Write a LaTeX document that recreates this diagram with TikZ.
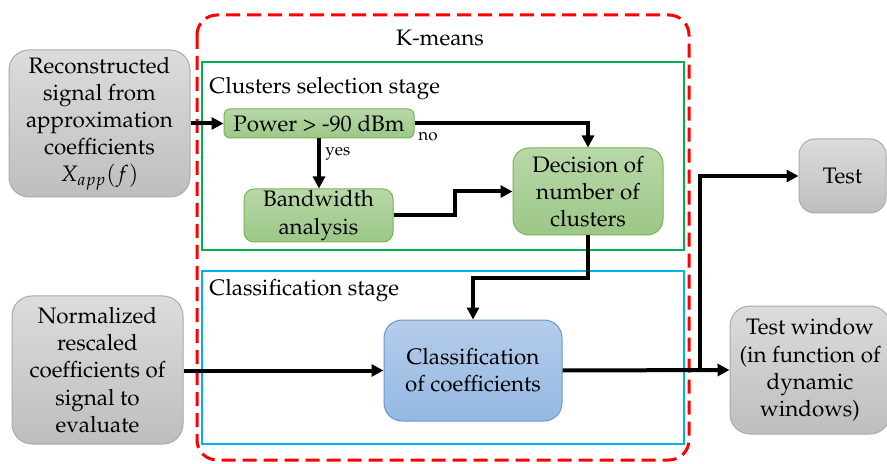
\documentclass[tikz,border=0pt]{standalone}
\usepackage[T1]{fontenc}
\usepackage{mathpazo}
\usetikzlibrary{arrows.meta}

\definecolor{grayTop}{RGB}{220,220,220}
\definecolor{grayBot}{RGB}{190,190,190}
\definecolor{grayLine}{RGB}{170,170,170}
\definecolor{greenTop}{RGB}{184,216,168}
\definecolor{greenBot}{RGB}{156,199,134}
\definecolor{greenLine}{RGB}{122,178,88}
\definecolor{blueTop}{RGB}{182,204,234}
\definecolor{blueBot}{RGB}{148,184,228}
\definecolor{blueLine}{RGB}{100,155,210}
\definecolor{stageGreen}{RGB}{0,176,80}
\definecolor{stageBlue}{RGB}{0,176,240}
\definecolor{kRed}{RGB}{255,0,0}

\tikzset{
  txt/.style={font=\fontsize{11.2}{13.6}\selectfont, align=center, inner sep=0pt},
  small/.style={font=\fontsize{8.5}{10}\selectfont, inner sep=0pt},
  graybox/.style={txt, draw=grayLine, line width=0.5pt, top color=grayTop, bottom color=grayBot, rounded corners=10pt},
  greenbox/.style={txt, draw=greenLine, line width=0.5pt, top color=greenTop, bottom color=greenBot},
  bluebox/.style={txt, draw=blueLine, line width=0.5pt, top color=blueTop, bottom color=blueBot, rounded corners=9pt},
  arr/.style={line width=2pt, -{Triangle[length=6pt,width=6pt]}},
}

\begin{document}
\begin{tikzpicture}[x=0.5pt,y=-0.5pt]
\useasboundingbox (0,0) rectangle (887,464);

% K-means frame and stage frames
\draw[kRed, line width=1.5pt, dash pattern=on 7pt off 3.5pt, rounded corners=10pt] (197,15) rectangle (689,460);
\node[txt] (kmeans) at (440,38) {K-means};
\draw[stageGreen, line width=1pt] (202,62) rectangle (684,250);
\node[txt, anchor=west] (stage1) at (209,89) {Clusters selection stage};
\draw[stageBlue, line width=1pt] (202,271) rectangle (684,444);
\node[txt, anchor=west] (stage2) at (209,291) {Classification stage};

% inputs and outputs
\node[graybox, minimum width=90.5pt, minimum height=73.5pt] (rec) at (99.5,123.5)
  {Reconstructed\\signal from\\approximation\\coefficients\\$X_{app}(f)$};
\node[graybox, minimum width=85.5pt, minimum height=74pt] (norm) at (97.5,370)
  {Normalized\\rescaled\\coefficients of\\signal to\\evaluate};
\node[graybox, minimum width=43.5pt, minimum height=37pt, rounded corners=8pt] (test) at (842.5,176) {Test};
\node[graybox, minimum width=80pt, minimum height=64pt] (twin) at (810,370)
  {Test window\\(in function of\\dynamic\\windows)};

% processing blocks
\node[greenbox, minimum width=95pt, minimum height=14.5pt, rounded corners=3pt] (power) at (319,123.5) {Power > -90 dBm};
\node[greenbox, minimum width=74.5pt, minimum height=26.5pt, rounded corners=5pt] (band) at (318.5,215.5) {Bandwidth\\analysis};
\node[greenbox, minimum width=75pt, minimum height=43.5pt, rounded corners=8pt] (dec) at (588,191.5) {Decision of\\number of\\clusters};
\node[bluebox, minimum width=89pt, minimum height=50.5pt] (cls) at (473,370.5) {Classification\\of coefficients};

% connectors
\coordinate (step) at (455,0);
\coordinate (join) at (473,278);
\coordinate (fork) at (700,370.5);

\draw[arr] (rec.east |- power.west) -- (power.west);
\draw[arr] (power.east) -| (dec.north);
\node[small, anchor=north west] (no) at (418,132) {no};
\draw[arr] (power.south) -- (power.south |- band.north);
\node[small, anchor=west] (yes) at (325,154) {yes};
\draw[arr] (band.east) -| (step |- dec.west) -- (dec.west);
\draw[arr] (dec.south) |- (join) -- (cls.north);
\draw[arr] (norm.east |- cls.west) -- (cls.west);
\draw[arr] (cls.east) -- (twin.west);
\draw[arr] (fork) |- (test.west);
\end{tikzpicture}
\end{document}
